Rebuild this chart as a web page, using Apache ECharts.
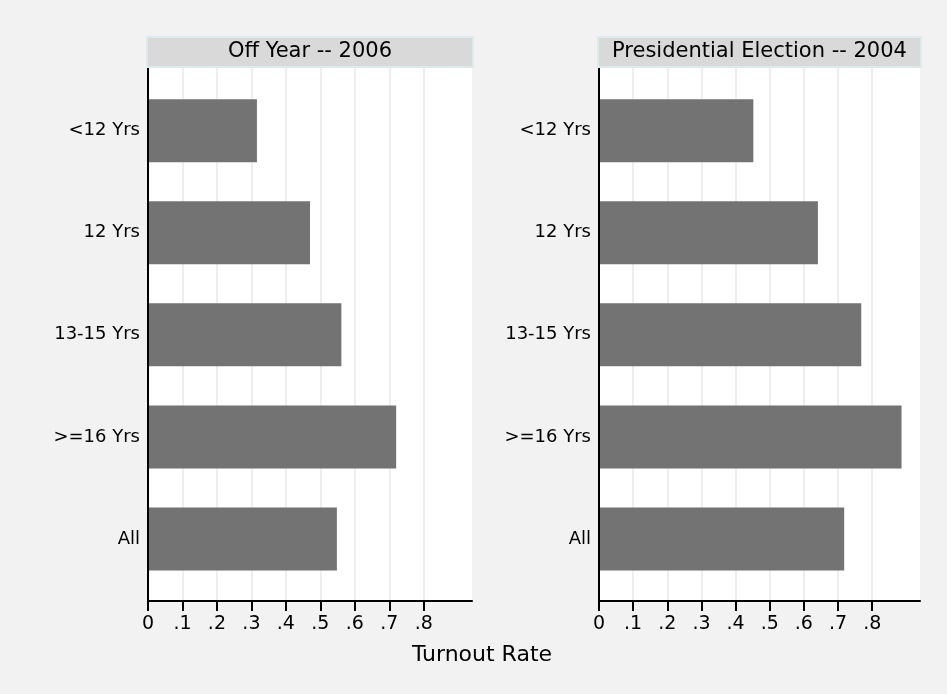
<!DOCTYPE html>
<html>
<head>
<meta charset="utf-8">
<script src="https://cdn.jsdelivr.net/npm/echarts@6/dist/echarts.min.js"></script>
<style>
html,body{margin:0;padding:0;background:#f2f2f2;}
#chart{width:947px;height:694px;}
</style>
</head>
<body>
<div id="chart"></div>
<script>
const categories = ['<12 Yrs', '12 Yrs', '13-15 Yrs', '>=16 Yrs', 'All'];
const offYear2006 = [0.316, 0.470, 0.561, 0.720, 0.548];
const presidential2004 = [0.452, 0.641, 0.768, 0.886, 0.718];
const tickValues = [0, 0.1, 0.2, 0.3, 0.4, 0.5, 0.6, 0.7, 0.8];
const panelTitles = ['Off Year -- 2006', 'Presidential Election -- 2004'];
const xAxisTitle = 'Turnout Rate';
const axisMax = 0.94;

const FONT = 'DejaVu Sans';
const chart = echarts.init(document.getElementById('chart'));

const panels = [
  {left: 148, width: 324},
  {left: 599, width: 321}
];
const seriesData = [offYear2006, presidential2004];

const grid = [], xAxis = [], yAxis = [], series = [], graphic = [];
panels.forEach((p, i) => {
  grid.push({left: p.left, top: 68, width: p.width, height: 533, show: true,
    backgroundColor: '#ffffff', borderWidth: 0, containLabel: false});
  grid.push({left: p.left, top: 79.6, width: p.width, height: 510.4, show: false, containLabel: false});
});
panels.forEach((p, i) => {
  const ag = i * 2, bg = i * 2 + 1;
  xAxis.push({
    type: 'value', gridIndex: ag, min: 0, max: axisMax, z: 1,
    axisLine: {show: true, lineStyle: {color: '#000', width: 2}},
    axisTick: {show: true, customValues: tickValues, length: 10, lineStyle: {color: '#000', width: 2}},
    axisLabel: {show: true, customValues: tickValues, margin: 14, color: '#000',
      fontFamily: FONT, fontSize: 19,
      formatter: v => v === 0 ? '0' : v.toFixed(1).replace(/^0/, '')},
    splitLine: {show: true, lineStyle: {color: '#e8e8e8', width: 1.5}}
  });
  yAxis.push({
    type: 'value', gridIndex: ag, min: 0, max: 1, z: 5,
    axisLine: {show: true, lineStyle: {color: '#000', width: 2}},
    axisTick: {show: false}, axisLabel: {show: false}, splitLine: {show: false}
  });
  xAxis.push({type: 'value', gridIndex: bg, min: 0, max: axisMax, show: false, splitLine: {show: false}});
  yAxis.push({
    type: 'category', gridIndex: bg, data: categories, inverse: true,
    axisLine: {show: false}, axisTick: {show: false}, splitLine: {show: false},
    axisLabel: {show: true, margin: 8, color: '#000', fontFamily: FONT, fontSize: 18}
  });
  series.push({
    type: 'bar', xAxisIndex: i * 2 + 1, yAxisIndex: i * 2 + 1, data: seriesData[i],
    barWidth: 63, itemStyle: {color: '#737373'}, silent: true, z: 2
  });
  graphic.push({type: 'rect', z: 10,
    shape: {x: p.left - 1, y: 37, width: p.width + 2, height: 30},
    style: {fill: '#d9d9d9', stroke: '#dcebeb', lineWidth: 2}});
  graphic.push({type: 'text', z: 11, x: p.left + p.width / 2, y: 52,
    style: {text: panelTitles[i], fill: '#000', font: '21px "' + FONT + '"',
      textAlign: 'center', textVerticalAlign: 'middle'}});
});
graphic.push({type: 'text', z: 11, x: 482, y: 655,
  style: {text: xAxisTitle, fill: '#000', font: '22px "' + FONT + '"',
    textAlign: 'center', textVerticalAlign: 'middle'}});

chart.setOption({
  backgroundColor: '#f2f2f2',
  animation: false,
  grid, xAxis, yAxis, series, graphic
});
</script>
</body>
</html>
